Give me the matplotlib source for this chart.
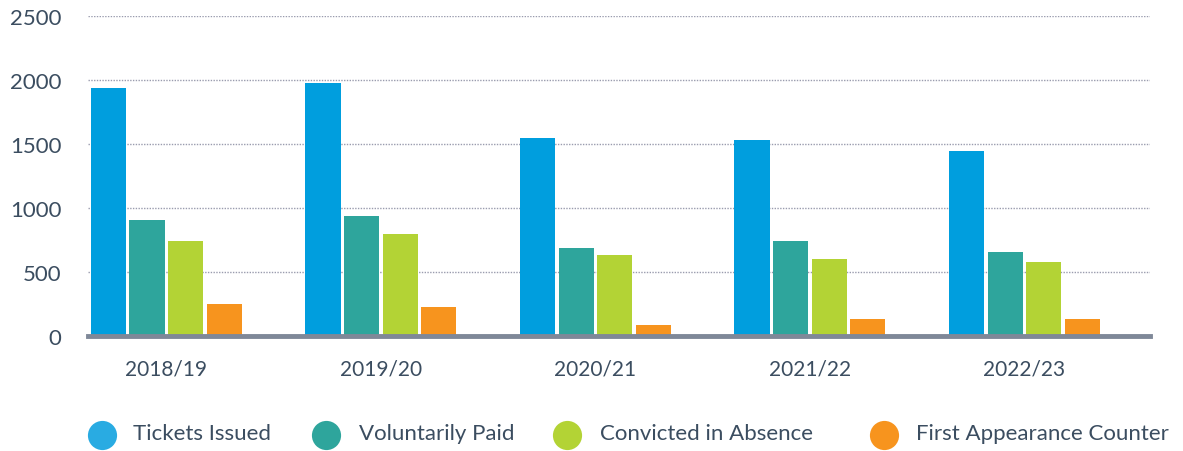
import matplotlib.pyplot as plt
from matplotlib.lines import Line2D
import numpy as np

plt.rcParams['font.family'] = ['Lato', 'DejaVu Sans']

years = ['2018/19', '2019/20', '2020/21', '2021/22', '2022/23']
tickets_issued = [1935, 1980, 1550, 1530, 1445]
voluntarily_paid = [910, 940, 690, 745, 660]
convicted_absence = [745, 795, 635, 605, 580]
first_appearance = [248, 225, 85, 130, 130]

series_labels = ['Tickets Issued', 'Voluntarily Paid', 'Convicted in Absence',
                 'First Appearance Counter']
bar_colors = ['#009ede', '#2ea59c', '#b3d335', '#f7941e']
legend_colors = ['#29abe2', '#2ea59c', '#b3d335', '#f7941e']
yticks = [0, 500, 1000, 1500, 2000, 2500]

TEXT = '#3b4d60'
W, H = 1183, 452

fig = plt.figure(figsize=(W / 100, H / 100), dpi=100)
ax = fig.add_axes([0.0744, 0.2544, 0.8977, 0.7080])

x = np.arange(len(years))
width = 0.164
step = 0.180
series = [tickets_issued, voluntarily_paid, convicted_absence, first_appearance]
for i, (vals, col) in enumerate(zip(series, bar_colors)):
    ax.bar(x + (i - 1.5) * step, vals, width, color=col, zorder=2)

ax.set_xlim(-0.365, 4.585)
ax.set_ylim(0, 2500)
ax.set_yticks(yticks)
ax.set_yticklabels([str(t) for t in yticks], fontsize=16, color=TEXT)
ax.set_xticks(x)
ax.set_xticklabels(years, fontsize=15, color=TEXT)
ax.tick_params(axis='y', length=0, pad=19)
ax.tick_params(axis='x', length=0, pad=16)

for t in yticks[1:]:
    ax.axhline(t, color='#9a9cae', linestyle=(0, (1, 1)), linewidth=1, zorder=1)

for s in ['top', 'right', 'left']:
    ax.spines[s].set_visible(False)
ax.spines['bottom'].set_color('#7f8898')
ax.spines['bottom'].set_linewidth(3.5)
ax.spines['bottom'].set_zorder(3)

# legend laid out by hand (uneven gaps in the original)
dot_x = [102, 326, 567, 884]
label_x = [133, 359, 600, 916]
for dx, tx, lab, col in zip(dot_x, label_x, series_labels, legend_colors):
    fig.add_artist(Line2D([dx / W], [1 - 436 / H], marker='o', markersize=21,
                          markerfacecolor=col, markeredgecolor='none',
                          linestyle='none', transform=fig.transFigure))
    fig.text(tx / W, 1 - 434 / H, lab, fontsize=16, color=TEXT,
             ha='left', va='center')

plt.savefig('out.png', dpi=100)
plt.close()
